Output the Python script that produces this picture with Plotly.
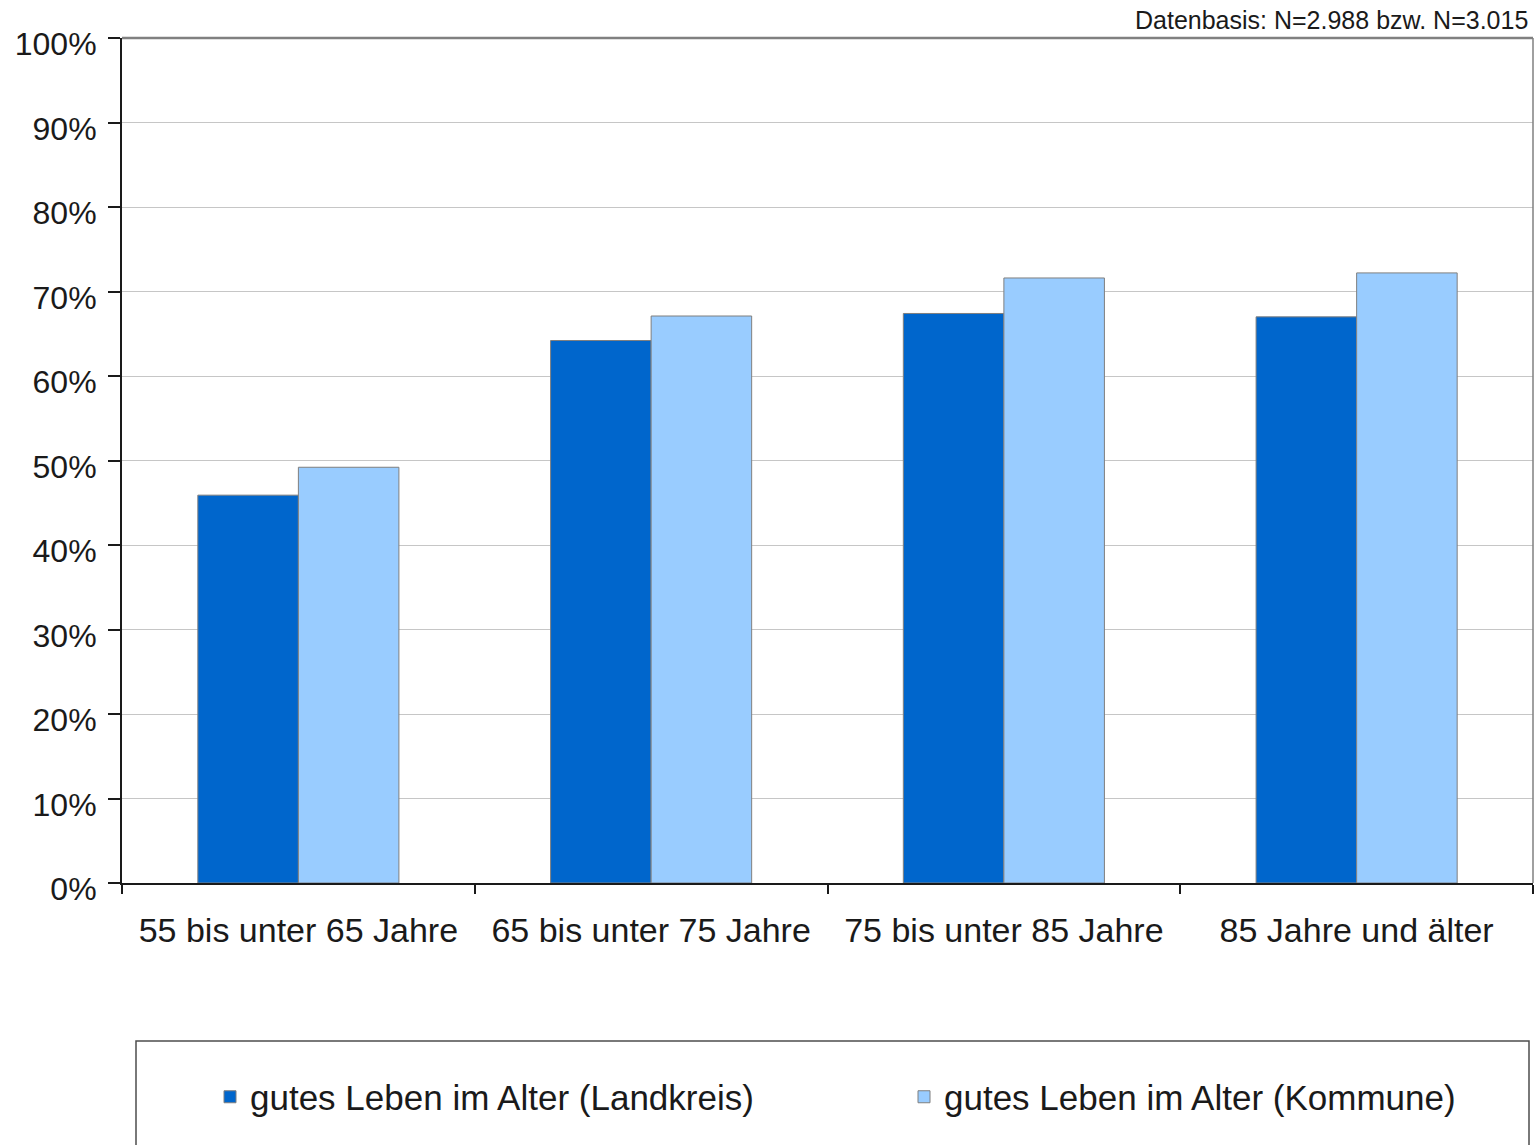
import plotly.graph_objects as go

# Age groups and share of respondents rating a "good life in old age"
categories = ["55 bis unter 65 Jahre", "65 bis unter 75 Jahre",
              "75 bis unter 85 Jahre", "85 Jahre und älter"]
landkreis = [0.459, 0.642, 0.674, 0.670]
kommune = [0.492, 0.671, 0.716, 0.722]
series_names = ["gutes Leben im Alter (Landkreis)", "gutes Leben im Alter (Kommune)"]
y_ticks = [0.0, 0.1, 0.2, 0.3, 0.4, 0.5, 0.6, 0.7, 0.8, 0.9, 1.0]
source_note = "Datenbasis: N=2.988 bzw. N=3.015"

FONT = "Liberation Sans, Arial, Helvetica, sans-serif"
TEXT = "#1a1a1a"

W, H = 1535, 1145
ML, MR, MT, MB = 122, 2, 38, 262
PW = W - ML - MR
PH = H - MT - MB


def px_x(x):
    return (x - ML) / PW


def px_y(y):
    return (H - MB - y) / PH


fig = go.Figure()
fig.add_trace(go.Bar(
    x=categories, y=landkreis, name=series_names[0],
    marker=dict(color="#0066CC", line=dict(color="#7f7f7f", width=1)),
    legend="legend", showlegend=True,
))
fig.add_trace(go.Bar(
    x=categories, y=kommune, name=series_names[1],
    marker=dict(color="#99CCFF", line=dict(color="#7f7f7f", width=1)),
    legend="legend2", showlegend=True,
))

legend_style = dict(
    orientation="h", yanchor="middle", xanchor="left",
    font=dict(family=FONT, size=35, color=TEXT),
    bgcolor="rgba(0,0,0,0)", borderwidth=0,
)

fig.update_layout(
    width=W, height=H,
    margin=dict(l=ML, r=MR, t=MT, b=MB),
    paper_bgcolor="white", plot_bgcolor="white",
    barmode="group", bargap=0.43, bargroupgap=0,
    showlegend=True,
    font=dict(family=FONT, color=TEXT),
    legend=dict(x=px_x(210), y=px_y(1097), **legend_style),
    legend2=dict(x=px_x(904), y=px_y(1097), **legend_style),
    xaxis=dict(
        showline=True, linecolor="#1a1a1a", linewidth=2,
        ticks="outside", tickson="boundaries", ticklen=9, tickwidth=1.5,
        tickcolor="#1a1a1a", ticklabelstandoff=16,
        tickfont=dict(family=FONT, size=34, color=TEXT),
        showgrid=False,
    ),
    yaxis=dict(
        range=[0, 1], tickvals=y_ticks, tickformat=".0%",
        showline=True, linecolor="#1a1a1a", linewidth=2,
        ticks="outside", ticklen=12, tickwidth=1.5, tickcolor="#1a1a1a",
        ticklabelstandoff=5, ticklabelshift=6,
        tickfont=dict(family=FONT, size=32, color=TEXT),
        showgrid=True, gridcolor="#c6c6c6", gridwidth=1,
        zeroline=False,
    ),
    shapes=[
        # top and right frame of the plotting area
        dict(type="line", xref="paper", yref="paper", x0=0, x1=1, y0=1, y1=1,
             line=dict(color="#808080", width=2.5)),
        dict(type="line", xref="paper", yref="paper", x0=1, x1=1, y0=0, y1=1,
             line=dict(color="#808080", width=1.5)),
        # legend frame
        dict(type="rect", xref="paper", yref="paper",
             x0=px_x(136), x1=px_x(1529), y0=px_y(1041), y1=px_y(1160),
             line=dict(color="#4d4d4d", width=1.5), fillcolor="rgba(0,0,0,0)"),
    ],
    annotations=[
        dict(text=source_note, xref="paper", yref="paper",
             x=px_x(1530), y=px_y(20), xanchor="right", yanchor="middle",
             showarrow=False, font=dict(family=FONT, size=25, color=TEXT)),
    ],
)

fig.write_html("out.html")
